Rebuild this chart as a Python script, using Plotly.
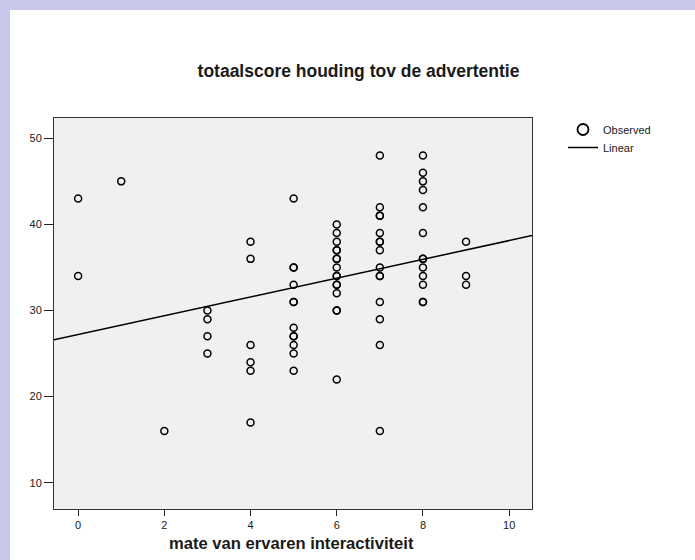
import numpy as np
import plotly.graph_objects as go

# Perceived interactivity (x) and total attitude score towards the ad (y)
interactiviteit = (
    [0, 0]
    + [1]
    + [2]
    + [3] * 4
    + [4] * 6
    + [5] * 12
    + [6] * 16
    + [7] * 15
    + [8] * 13
    + [9] * 3
)
houding = (
    [43, 34]
    + [45]
    + [16]
    + [30, 29, 27, 25]
    + [38, 36, 26, 24, 23, 17]
    + [43, 35, 35, 33, 31, 31, 28, 27, 27, 26, 25, 23]
    + [40, 39, 38, 37, 37, 36, 36, 35, 34, 34, 33, 33, 32, 30, 30, 22]
    + [48, 42, 41, 41, 39, 38, 38, 37, 35, 34, 34, 31, 29, 26, 16]
    + [48, 46, 45, 44, 42, 39, 36, 36, 35, 34, 33, 31, 31]
    + [38, 34, 33]
)

x_ticks = [0, 2, 4, 6, 8, 10]
y_ticks = [10, 20, 30, 40, 50]
x_range = [-0.56, 10.53]
y_range = [6.95, 52.36]

title_text = "totaalscore houding tov de advertentie"
x_title_text = "mate van ervaren interactiviteit"

# Least-squares linear fit, drawn across the whole x range
slope, intercept = np.polyfit(interactiviteit, houding, 1)
fit_x = np.array(x_range)
fit_y = intercept + slope * fit_x

FONT = "Arial, Liberation Sans, Helvetica, sans-serif"
INK = "#1a1a1a"

fig = go.Figure()
fig.add_trace(go.Scatter(
    x=interactiviteit, y=houding, mode="markers", name="Observed",
    marker=dict(symbol="circle-open", size=7, color="black", line=dict(width=1.5)),
    cliponaxis=False, showlegend=False,
))
fig.add_trace(go.Scatter(
    x=fit_x, y=fit_y, mode="lines", name="Linear",
    line=dict(color="black", width=1.5), showlegend=False,
))
# Legend keys (larger circle, thin line), each in its own legend box
fig.add_trace(go.Scatter(
    x=[None], y=[None], mode="markers", name="Observed", legend="legend",
    marker=dict(symbol="circle-open", size=11, color="black", line=dict(width=1.8)),
))
fig.add_trace(go.Scatter(
    x=[None], y=[None], mode="lines", name="Linear", legend="legend2",
    line=dict(color="black", width=1.5),
))

# Plot-area geometry in pixels
L, R, T, B = 54, 532, 118, 509
W, H = 695, 560
pw, ph = R - L, B - T


def px_x(p):
    return (p - L) / pw


def px_y(p):
    return (B - p) / ph


band = "#c8c6ea"
shapes = [
    dict(type="rect", xref="paper", yref="paper", x0=px_x(-2), x1=px_x(10),
         y0=px_y(H + 2), y1=px_y(-2), fillcolor=band, line=dict(width=0), layer="below"),
    dict(type="rect", xref="paper", yref="paper", x0=px_x(-2), x1=px_x(W + 2),
         y0=px_y(10), y1=px_y(-2), fillcolor=band, line=dict(width=0), layer="below"),
]

axis_common = dict(
    showline=True, linecolor="#333333", linewidth=1, mirror=True,
    ticks="outside", tickwidth=1, tickcolor="#222222",
    showgrid=False, zeroline=False,
    tickfont=dict(family=FONT, size=11, color=INK),
)

legend_common = dict(
    x=px_x(563), xanchor="left", yanchor="top",
    bgcolor="rgba(0,0,0,0)", borderwidth=0,
    font=dict(family=FONT, size=11, color=INK),
)

fig.update_layout(
    width=W, height=H,
    margin=dict(l=L, r=W - R, t=T, b=H - B, autoexpand=False),
    paper_bgcolor="white",
    plot_bgcolor="#f0f0f0",
    shapes=shapes,
    xaxis=dict(range=x_range, tickvals=x_ticks, ticklen=6, **axis_common),
    yaxis=dict(range=y_range, tickvals=y_ticks, ticklen=9, **axis_common),
    title=dict(
        text=f"<b>{title_text}</b>", xref="paper", x=px_x(358.5), xanchor="center",
        yref="container", y=1 - 71 / H, yanchor="middle",
        font=dict(family=FONT, size=17.5, color=INK),
    ),
    annotations=[dict(
        text=f"<b>{x_title_text}</b>", xref="paper", yref="paper",
        x=px_x(291.5), y=px_y(543), xanchor="center", yanchor="middle",
        showarrow=False, font=dict(family=FONT, size=16.6, color=INK),
    )],
    showlegend=True,
    legend=dict(y=px_y(115), **legend_common),
    legend2=dict(y=px_y(133), **legend_common),
)

fig.write_html("out.html")
